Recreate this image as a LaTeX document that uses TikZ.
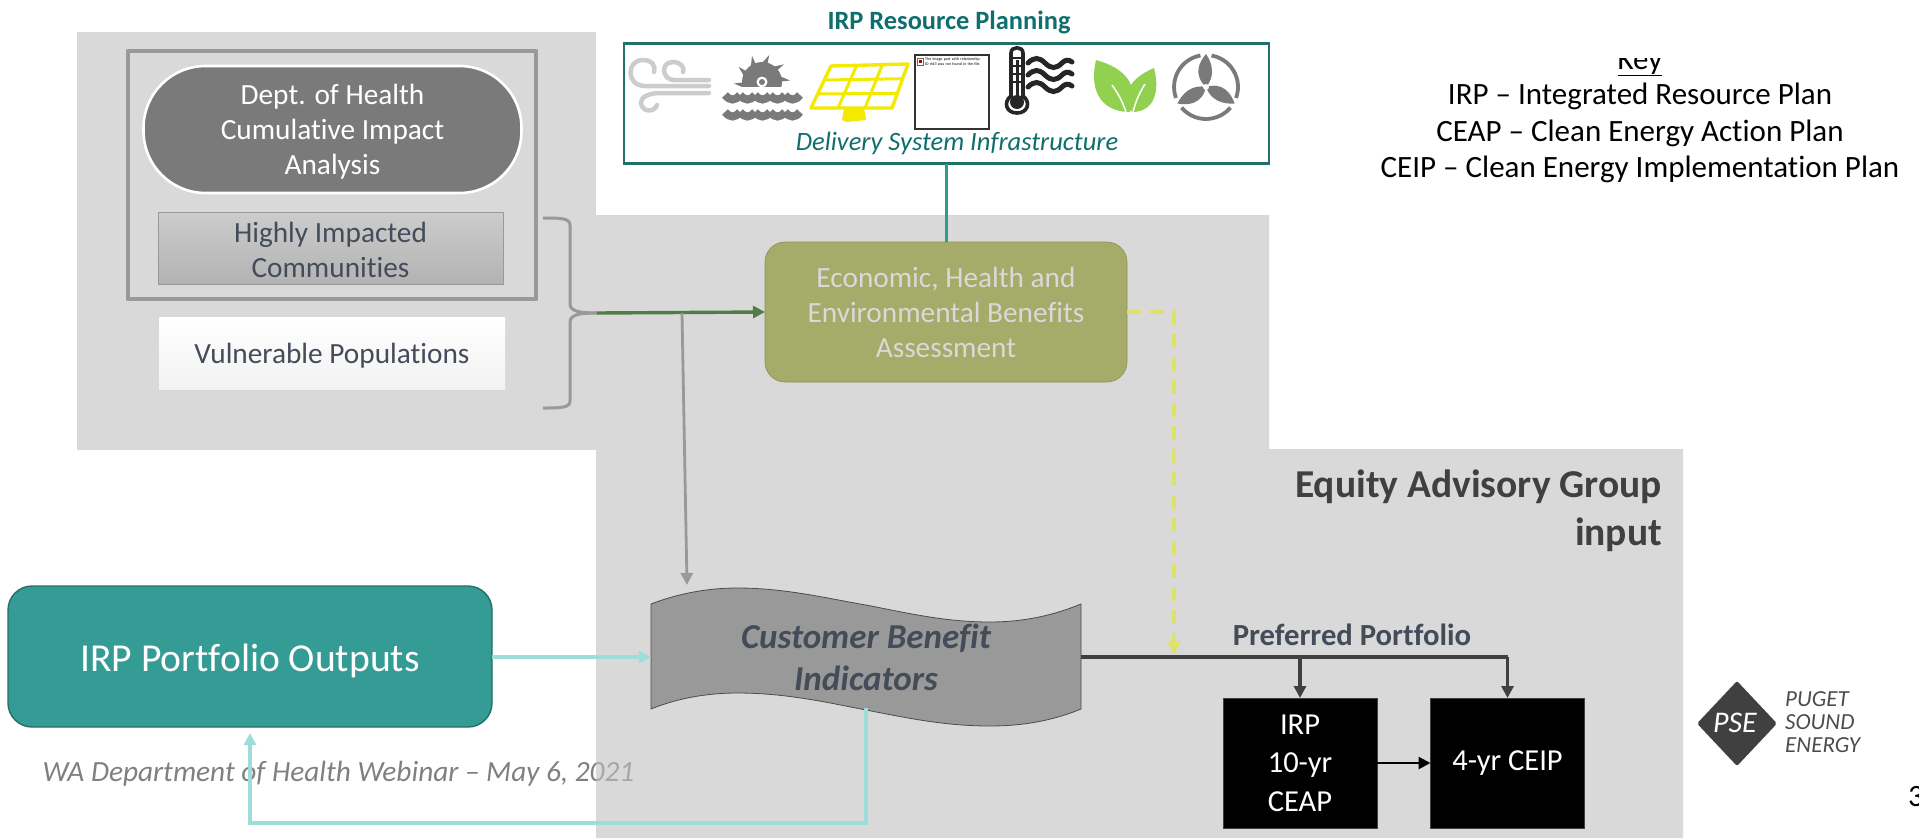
\documentclass[tikz,border=0pt]{standalone}
\usepackage{fontspec}
\setmainfont{Carlito}[RawFeature=-liga]
\usetikzlibrary{arrows.meta,calc}
\definecolor{panelc}{HTML}{C0C0C0}
\definecolor{panelsolid}{HTML}{D9D9D9}
\definecolor{slate}{HTML}{444C5A}
\definecolor{tealbox}{HTML}{349C94}
\definecolor{tealdark}{HTML}{23706B}
\definecolor{teallight}{HTML}{9FDDDB}
\definecolor{titleteal}{HTML}{0F6E6E}
\definecolor{linkteal}{HTML}{2F9C92}
\definecolor{olive}{HTML}{A5AB68}
\definecolor{dashy}{HTML}{DDE36A}
\definecolor{linkgreen}{HTML}{4E7D45}
\definecolor{midgrey}{HTML}{999999}
\definecolor{darkline}{HTML}{404040}
\definecolor{solar}{HTML}{F2EA00}
\definecolor{leafg}{HTML}{92D050}
\definecolor{iconGrey}{HTML}{7A7A7A}
\newcommand{\fs}[2]{\fontsize{#1}{#2}\selectfont}
\tikzset{
  txt/.style={inner sep=0pt,outer sep=0pt,align=center},
  arrowtip/.style={-{Triangle[length=12pt,width=12pt]}},
  teallink/.style={draw=teallight,line width=3.2pt,arrowtip},
  darklink/.style={draw=darkline,line width=3.2pt},
  blackbox/.style={fill=black,draw=darkline,line width=.6pt,text=white,inner sep=0pt,outer sep=0pt,minimum width=154pt,minimum height=130pt,align=center,font=\fs{30.5}{38.5}},
}
\begin{document}
\begin{tikzpicture}[x=1pt,y=-1pt]
\useasboundingbox (0,0) rectangle (1919,838);
% footer sits under the translucent panel
\node[txt,anchor=center,text=black!50,font=\fs{29.3}{32}\itshape] (footer) at (338.5,774) {WA Department of Health Webinar – May 6, 2021};
% panels
\fill[panelsolid] (77,32) rectangle (596,450);
\fill[panelc,fill opacity=.6] (596,215) -- (1269,215) -- (1269,449) -- (1683,449) -- (1683,838) -- (596,838) -- cycle;
% title and infrastructure box
\node[txt,text=titleteal,font=\fs{26.4}{30}\bfseries] (title) at (949,22) {IRP Resource Planning};
\node[draw=tealdark,fill=white,line width=2.6pt,minimum width=645pt,minimum height=120pt,inner sep=0pt,outer sep=0pt] (irp) at (946.5,103.5) {};
\node[txt,text=titleteal,font=\fs{26.5}{30}\itshape] (delivery) at (957,143) {Delivery System Infrastructure};
% wind icon
\begin{scope}[draw=black!20,line width=4.5pt,line cap=round]
\draw (709,80) -- (674,80) .. controls (662,80) and (660,62) .. (673,62) .. controls (681,62) and (685,68) .. (683,72);
\draw (709,86) -- (645,86) .. controls (626,86) and (626,60) .. (643,60) .. controls (652,60) and (656,66) .. (654,72);
\draw (709,93) -- (660,93) .. controls (648,93) and (640,98) .. (641,103) .. controls (642,112) and (654,113) .. (657,105);
\end{scope}
% hydro icon
\begin{scope}
\clip (720,50) rectangle (805,86);
\fill[iconGrey] (762,82) circle[radius=20pt];
\foreach \a in {0,36,...,324}{
  \fill[iconGrey] ([shift={(\a:15pt)}]762,82) -- ([shift={(\a+24:17pt)}]762,82) -- ([shift={(\a+3:28pt)}]762,82) -- cycle;
}
\end{scope}
\fill[white] (762,82) circle[radius=5.5pt];
\fill[iconGrey] (762,82) circle[radius=3pt];
\foreach \y in {95,112}{
  \foreach \x in {725,740,755,770,785}{
    \draw[iconGrey,line width=8pt] (\x,\y) .. controls (\x+5,\y+6) and (\x+10,\y+6) .. (\x+15,\y);
  }
}
% solar icon
\fill[solar] (844,108) -- (864,108) -- (866,120) -- (846,122) -- (842,120) -- cycle;
\draw[solar,fill=white,line width=3.4pt,line join=round] (831,66) -- (908,64) -- (892,108) -- (811,108) -- cycle;
\draw[solar,line width=3pt] (856.7,65.3) -- (838,108) (882.3,64.7) -- (865,108) (824.3,80) -- (902.7,78.7) (817.7,94) -- (897.3,93.3);
% missing picture
\node[draw=black!80,fill=white,line width=1.5pt,minimum width=74pt,minimum height=74pt,inner sep=0pt] (missing) at (952,92) {};
\draw[black!60,fill=white,line width=.4pt] (917.5,58) rectangle (923.5,65);
\fill[red!70!black] (919,60) rectangle (922,63);
\node[anchor=north west,inner sep=0pt,text width=56pt,font=\fs{4}{5}] (missingtext) at (925,57.5) {The image part with relationship ID rId3 was not found in the file.};
% thermometer icon
\draw[black!85,fill=white,line width=3.6pt] (1011,96) -- (1011,53) .. controls (1011,46) and (1023,46) .. (1023,53) -- (1023,96) .. controls (1031,102) and (1028,113) .. (1017,113) .. controls (1006,113) and (1003,102) .. (1011,96) -- cycle;
\fill[black!85] (1017,102) circle[radius=7pt];
\draw[black!85,line width=3pt] (1017,60) -- (1017,96);
\foreach \y in {58,66,74,82}{\draw[black!85,line width=1.8pt] (1013,\y) -- (1021,\y);}
\foreach \y in {63,75,87}{
  \draw[black!85,line width=5pt,line cap=round] (1028,\y) .. controls (1034,\y-6) and (1039,\y-6) .. (1045,\y) .. controls (1051,\y+6) and (1056,\y+6) .. (1062,\y) .. controls (1065,\y-3) and (1068,\y-4) .. (1072,\y-1);
}
% leaf icon
\fill[leafg] (1096,60) .. controls (1125,68) and (1140,85) .. (1130,112) .. controls (1105,112) and (1088,95) .. (1096,60) -- cycle;
\fill[leafg] (1154,68) .. controls (1160,90) and (1155,112) .. (1132,112) .. controls (1120,95) and (1130,78) .. (1154,68) -- cycle;
\draw[white,line width=1.5pt] (1126,112) .. controls (1122,100) and (1117,92) .. (1112,85);
\draw[white,line width=1.5pt] (1133,112) .. controls (1136,100) and (1140,92) .. (1145,84);
% turbine icon
\foreach \a in {0,120,240}{
  \begin{scope}[shift={(1206,87)},rotate=\a]
    \fill[iconGrey] (0,0) .. controls (-13,-12) and (-7,-25) .. (0,-33) .. controls (7,-23) and (9,-10) .. (0,0) -- cycle;
  \end{scope}
}
\fill[white] (1206,87) circle[radius=3pt];
\foreach \a in {100,220,340}{
  \draw[iconGrey,line width=3.8pt] ([shift={(\a:32pt)}]1206,87) arc[start angle=\a,delta angle=100,radius=32pt];
}
% left panel
\draw[midgrey,line width=4.4pt,line join=round] (128,51) rectangle (536,299);
\node[fill=iconGrey,draw=white,line width=2.6pt,rounded corners=62pt,minimum width=378pt,minimum height=127pt,inner sep=0pt] (pill) at (332.5,129.5) {};
\node[txt,text=white,font=\fs{29.3}{35}] (pilltext) at (332.5,132) {Dept. of Health\\Cumulative Impact\\Analysis};
\node[top color=black!20,bottom color=black!30,draw=black!40,line width=.7pt,minimum width=345pt,minimum height=72pt,inner sep=0pt] (highly) at (330.5,248.5) {};
\node[txt,text=slate,font=\fs{29.3}{35}] (highlytext) at (330.5,250) {Highly Impacted\\Communities};
\node[top color=white,bottom color=black!5,minimum width=346pt,minimum height=72pt,inner sep=0pt] (vuln) at (332,353) {};
\node[txt,text=slate,font=\fs{29.3}{35}] (vulntext) at (332,356) {Vulnerable Populations};
\coordinate (bracetip) at (597,313);
\draw[midgrey,line width=3pt] (543,218) .. controls (560,218) and (570,218) .. (570,225) -- (570,304) .. controls (570,312) and (582,313) .. (bracetip);
\draw[midgrey,line width=3pt] (543,408) .. controls (560,408) and (570,408) .. (570,401) -- (570,322) .. controls (570,314) and (582,313) .. (bracetip);
% green box
\node[fill=olive,draw=olive!85!black,line width=.6pt,rounded corners=20pt,minimum width=296pt*1.223,minimum height=140pt,inner sep=0pt,outer sep=0pt,text=panelsolid,align=center,font=\fs{29.3}{35}] (benefit) at (946,312) {Economic, Health and\\Environmental Benefits\\Assessment};
% wave
\draw[black!70,fill=midgrey,line width=.8pt] (651,604) .. controls (678,593.5) and (708,588) .. (737,588) .. controls (785,588) and (825,598) .. (866,605) .. controls (907,613) and (945,622) .. (990,622) .. controls (1022,622) and (1052,616) .. (1081,604) -- (1081,709) .. controls (1052,721) and (1022,726) .. (990,726) .. controls (945,726) and (907,718) .. (866,710) .. controls (825,702) and (785,693) .. (737,693) .. controls (708,693) and (678,698) .. (651,709) -- cycle;
\node[minimum width=430pt,minimum height=105pt,inner sep=0pt,outer sep=0pt,text=slate,align=center,font=\fs{35}{42}\bfseries\itshape] (wave) at (866,657) {Customer Benefit\\Indicators};
% teal box
\node[fill=tealbox,draw=tealdark,line width=1.4pt,rounded corners=24pt,minimum width=484pt,minimum height=141pt,inner sep=0pt,outer sep=0pt] (outputs) at (250,656.5) {};
\node[txt,text=white,font=\fs{39.6}{44}] (outputstext) at (250,661) {IRP Portfolio Outputs};
% black boxes
\node[blackbox] (ceap) at (1300,763) {IRP\\10-yr\\CEAP};
\node[blackbox] (ceip) at (1507.5,763) {4-yr CEIP};
% texts
\node[txt,text=black!75,align=right,anchor=north east,font=\fs{39.5}{47.5}\bfseries] (equity) at (1662,470) {Equity Advisory Group\\input};
\node[txt,text=slate,font=\fs{30.7}{34}\bfseries] (preferred) at (1352,635) {Preferred Portfolio};
\begin{scope}
\clip (1500,58) rectangle (1780,80);
\node[anchor=base,inner sep=0pt,text=black,font=\fs{31}{36}] (keyword) at (1640,69) {\underline{Key}};
\end{scope}
\node[txt,text=black,font=\fs{31}{36.7}] (key) at (1640,133) {IRP – Integrated Resource Plan\\CEAP – Clean Energy Action Plan\\CEIP – Clean Energy Implementation Plan};
\begin{scope}
\clip (1890,770) rectangle (1919,820);
\node[anchor=west,inner sep=0pt,font=\fs{31}{36}] (pageno) at (1908,797) {3};
\end{scope}
% logo
\fill[darkline,rounded corners=2pt] (1697,723.5) -- (1737,681) -- (1777,723.5) -- (1737,766) -- cycle;
\node[txt,text=white,font=\fs{30}{32}\itshape] (pse) at (1735,723) {PSE};
\node[anchor=west,inner sep=0pt,align=left,text=black!70,font=\fs{23}{23}\itshape] (puget) at (1785,722) {PUGET\\SOUND\\ENERGY};
% connectors
\coordinate (graystart) at (682,313);
\coordinate (grayend) at (687,585);
\coordinate (ydash) at (1174,312);
\coordinate (yend) at (1174,655);
\coordinate (trunk) at (1300,657);
\coordinate (rtop) at (866,708);
\coordinate (rbot) at (866,823);
\coordinate (rleft) at (250,823);
\coordinate (rend) at (250,733);
\draw[linkteal,line width=3.2pt] (irp.south) -- (irp.south |- benefit.north);
\draw[linkgreen,line width=3.4pt,arrowtip] (bracetip) -- (benefit.west);
\draw[midgrey,line width=2.8pt,arrowtip] (graystart) -- (grayend);
\draw[teallink] (outputs.east |- wave.west) -- (wave.west);
\draw[teallink] (rtop) -- (rbot) -- (rleft) -- (rend);
\draw[dashy,line width=3.4pt,dash pattern=on 14pt off 9pt] (benefit.east) -- (ydash) -- ($(yend)+(0,-12)$);
\fill[dashy] (yend) -- ++(-7,-14) -- ++(14,0) -- cycle;
\draw[darklink] (wave.east) -- (ceip.north |- wave.east);
\draw[darklink,arrowtip] (trunk) -- (ceap.north);
\draw[darklink,arrowtip] (ceip.north |- wave.east) -- (ceip.north);
\draw[black,line width=2.6pt,arrowtip] (ceap.east) -- (ceip.west);
\end{tikzpicture}
\end{document}
